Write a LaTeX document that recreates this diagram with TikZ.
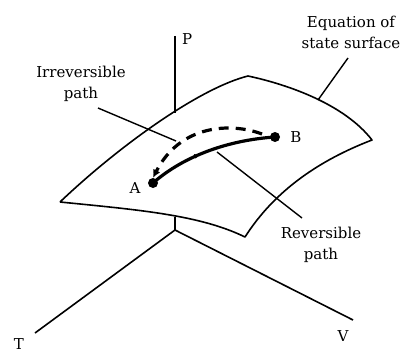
\documentclass[tikz,border=0pt]{standalone}
\usepackage{fontspec}
\setmainfont{DejaVu Serif}
\usetikzlibrary{arrows.meta,decorations.markings}

\begin{document}
\begin{tikzpicture}[
  x=1pt, y=-1pt,
  font=\fontsize{15}{21}\selectfont,
  axis/.style={line width=1.6pt},
  edge/.style={line width=1.6pt, line join=round},
  lead/.style={line width=1.4pt},
  lab/.style={align=center, inner sep=0pt},
  rev/.style={line width=3.2pt, postaction={decorate},
    decoration={markings, mark=at position 0.42 with {\arrow{Latex[length=6pt,width=5pt]}}}},
  irr/.style={line width=3.2pt, dash pattern=on 10pt off 7pt, -{Latex[length=8pt,width=8pt]}},
  dot/.style={circle, fill, inner sep=0pt, minimum size=10pt}
]
\useasboundingbox (0,0) rectangle (402,353);

% axes
\coordinate (O) at (175,230);
\coordinate (Ptop) at (175,36);
\coordinate (Pin) at (175,113);
\coordinate (Pout) at (175,217);
\coordinate (Tend) at (35,333);
\coordinate (Vend) at (353,320);
\draw[axis] (Ptop) -- (Pin);
\draw[axis] (Pout) -- (O);
\draw[axis] (O) -- (Tend);
\draw[axis] (O) -- (Vend);
\node[lab, anchor=west] (P) at (182,39) {P};
\node[lab] (T) at (19,344) {T};
\node[lab] (V) at (343,336) {V};

% state surface
\coordinate (sl) at (60,202);
\coordinate (st) at (248,76);
\coordinate (sr) at (372,140);
\coordinate (sb) at (245,237);
\draw[edge] (sl) .. controls (120,145) and (200,88) .. (st)
  .. controls (290,85) and (345,105) .. (sr)
  .. controls (320,160) and (275,190) .. (sb)
  .. controls (200,215) and (140,210) .. (sl);

% states and paths
\node[dot] (A) at (153,183) {};
\node[dot] (B) at (275,137) {};
\node[lab] at (135,188) {A};
\node[lab] at (296,137) {B};
\draw[rev] (A.center) .. controls (185,155) and (230,140) .. (B.center);
\draw[irr] (262,134) .. controls (230,122) and (180,125) .. (A.north);

% labels
\node[lab] (irrlab) at (81,84) {Irreversible\\path};
\node[lab] (revlab) at (321,245) {Reversible\\path};
\node[lab] (eqlab) at (351,32) {Equation of\\state surface};
\coordinate (irrend) at (176,141);
\coordinate (revend) at (217,152);
\coordinate (eqend) at (318,100);
\draw[lead] (98,108) -- (irrend);
\draw[lead] (302,218) -- (revend);
\draw[lead] (348,58) -- (eqend);

\end{tikzpicture}
\end{document}
